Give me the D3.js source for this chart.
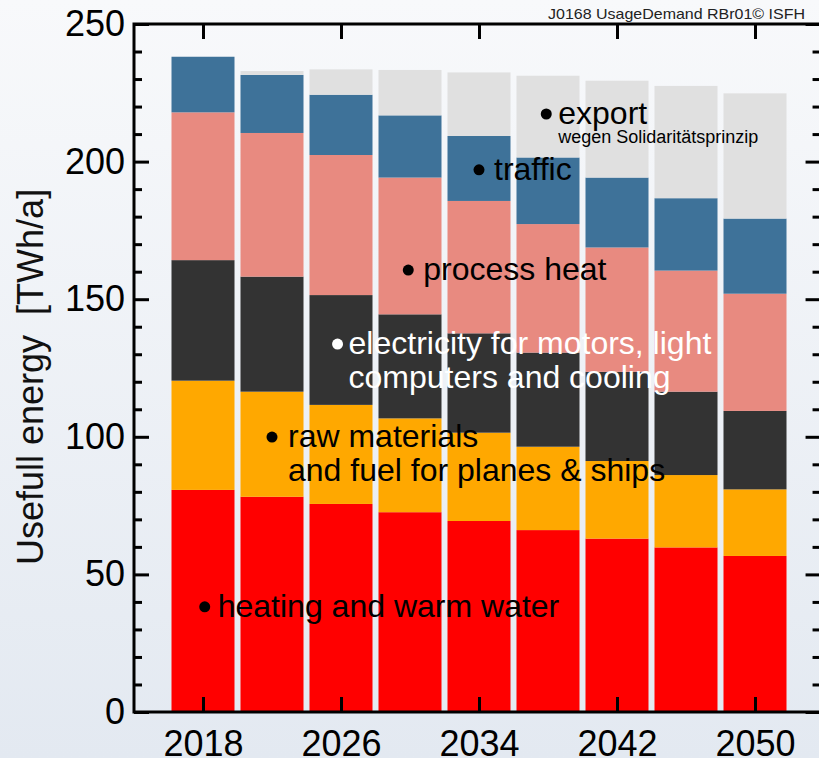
<!DOCTYPE html>
<html>
<head>
<meta charset="utf-8">
<script src="https://cdn.jsdelivr.net/npm/d3@7"></script>
<style>
  html, body { margin: 0; padding: 0; }
  body { width: 819px; height: 758px; overflow: hidden; }
  svg text { font-family: "Liberation Sans", Arial, sans-serif; }
</style>
</head>
<body>
<svg id="chart" width="819" height="758"></svg>
<script>
// ---- data ----
const years = [2018, 2022, 2026, 2030, 2034, 2038, 2042, 2046, 2050];
const seriesNames = ["heating", "raw", "electricity", "process", "traffic", "export"];
const heating     = [80.7, 78.2, 75.6, 72.6, 69.4, 66.1, 63.0, 59.8, 56.7];
const raw         = [39.7, 38.2, 36.0, 34.1, 32.1, 30.3, 28.2, 26.3, 24.2];
const electricity = [43.8, 41.8, 39.9, 37.8, 36.1, 34.2, 32.4, 30.3, 28.5];
const processHeat = [53.7, 52.2, 50.9, 49.7, 48.1, 46.7, 45.2, 44.0, 42.6];
const traffic     = [20.2, 21.1, 21.9, 22.6, 23.6, 24.2, 25.4, 26.3, 27.3];
const exportE     = [0.0, 1.4, 9.2, 16.5, 23.1, 29.7, 35.2, 40.8, 45.5];
const xTickLabels = [2018, 2026, 2034, 2042, 2050];
const yTickLabels = [0, 50, 100, 150, 200, 250];
const yLabel = "Usefull energy  [TWh/a]";
const credit = "J0168 UsageDemand RBr01\u00A9 ISFH";
// annotation texts
const annoHeating = ["heating and warm water"];
const annoRaw = ["raw materials", "and fuel for planes & ships"];
const annoElec = ["electricity for motors, light", "computers and cooling"];
const annoProcess = ["process heat"];
const annoTraffic = ["traffic"];
const annoExport = ["export"];
const annoExportSub = "wegen Solidaritätsprinzip";

// ---- layout ----
const svg = d3.select("#chart");
const W = 819, H = 758;
const colors = {
  heating: "#ff0000", raw: "#ffa800", electricity: "#333333",
  process: "#e88a80", traffic: "#3e7299", export: "#e0e0e0"
};

// background gradient
const defs = svg.append("defs");
const grad = defs.append("linearGradient").attr("id", "bg").attr("x1", 0).attr("y1", 0).attr("x2", 0).attr("y2", 1);
grad.append("stop").attr("offset", "0%").attr("stop-color", "#f8f9fb");
grad.append("stop").attr("offset", "100%").attr("stop-color", "#e3e9f1");
svg.append("rect").attr("width", W).attr("height", H).attr("fill", "url(#bg)");

const x = d3.scaleLinear().domain([2014, 2054]).range([134, 824]);
const y = d3.scaleLinear().domain([0, 250]).range([712, 24]);

// stack
const table = years.map((yr, i) => ({
  year: yr, heating: heating[i], raw: raw[i], electricity: electricity[i],
  process: processHeat[i], traffic: traffic[i], export: exportE[i]
}));
const stack = d3.stack().keys(seriesNames)(table);

const barW = (x(2022) - x(2018)) - 6;
svg.append("g").selectAll("g").data(stack).join("g")
  .attr("fill", d => colors[d.key])
  .selectAll("rect").data(d => d).join("rect")
  .attr("x", d => x(d.data.year) - barW / 2)
  .attr("width", barW)
  .attr("y", d => y(d[1]))
  .attr("height", d => Math.max(0, y(d[0]) - y(d[1])));

// axes
const axisG = svg.append("g");
const styleAxis = g => {
  g.select(".domain").remove();
  g.selectAll("line").attr("stroke", "#000").attr("stroke-width", 3);
  g.selectAll("text").attr("fill", "#000").attr("font-size", 36);
};
const minorY = d3.range(0, 251, 10).filter(v => v % 50 !== 0);

// left
axisG.append("g").attr("transform", `translate(${x.range()[0]},0)`)
  .call(d3.axisLeft(y).tickValues(yTickLabels).tickSize(-15).tickPadding(9).tickFormat(d3.format("d")))
  .call(styleAxis);
axisG.append("g").attr("transform", `translate(${x.range()[0]},0)`)
  .call(d3.axisLeft(y).tickValues(minorY).tickSize(-8).tickFormat(""))
  .call(styleAxis);
// right
axisG.append("g").attr("transform", `translate(${x(2053.8)},0)`)
  .call(d3.axisRight(y).tickValues(yTickLabels).tickSize(-15).tickFormat(""))
  .call(styleAxis);
axisG.append("g").attr("transform", `translate(${x(2053.8)},0)`)
  .call(d3.axisRight(y).tickValues(minorY).tickSize(-8).tickFormat(""))
  .call(styleAxis);
// bottom
axisG.append("g").attr("transform", `translate(0,${y(0)})`)
  .call(d3.axisBottom(x).tickValues(xTickLabels).tickSize(-15).tickPadding(18).tickFormat(d3.format("d")))
  .call(styleAxis);
// top
axisG.append("g").attr("transform", `translate(0,${y(250)})`)
  .call(d3.axisTop(x).tickValues(xTickLabels).tickSize(-15).tickFormat(""))
  .call(styleAxis);

// frame lines
const x0 = x.range()[0], x1 = x(2053.8);
axisG.append("path")
  .attr("d", `M${x0},${y(250)}H${x1}V${y(0)}H${x0}Z`)
  .attr("fill", "none").attr("stroke", "#000").attr("stroke-width", 3);

// y label
svg.append("text")
  .attr("transform", `translate(43,565) rotate(-90)`)
  .attr("text-anchor", "start")
  .attr("font-size", 36)
  .attr("fill", "#111")
  .style("white-space", "pre")
  .text(yLabel);

// credit
svg.append("text")
  .attr("x", 548).attr("y", 19)
  .attr("font-size", 15)
  .attr("fill", "#222")
  .attr("textLength", 257)
  .attr("lengthAdjust", "spacingAndGlyphs")
  .text(credit);

// annotations (anchored in data coordinates)
function annotate(year, value, lines, color, opts = {}) {
  const cx = x(year), cy = y(value);
  svg.append("circle").attr("cx", cx).attr("cy", cy).attr("r", 5.5).attr("fill", color);
  const t = svg.append("text").attr("font-size", opts.size || 32).attr("fill", color);
  lines.forEach((ln, i) => {
    t.append("tspan").attr("x", cx + (opts.dx || 13)).attr("y", cy + 10 + i * 34).text(ln);
  });
}
annotate(2018.1, 38.2, annoHeating, "#000");
annotate(2022.0, 99.9, annoRaw, "#000", { dx: 16 });
annotate(2025.8, 133.7, annoElec, "#fff", { dx: 11 });
annotate(2029.9, 160.6, annoProcess, "#000", { dx: 15 });
annotate(2034.0, 197.0, annoTraffic, "#000", { dx: 15 });
annotate(2037.9, 217.3, annoExport, "#000", { dx: 12 });
svg.append("text")
  .attr("x", x(2037.9) + 12).attr("y", y(217.3) + 29)
  .attr("font-size", 18).attr("fill", "#000")
  .text(annoExportSub);
</script>
</body>
</html>
